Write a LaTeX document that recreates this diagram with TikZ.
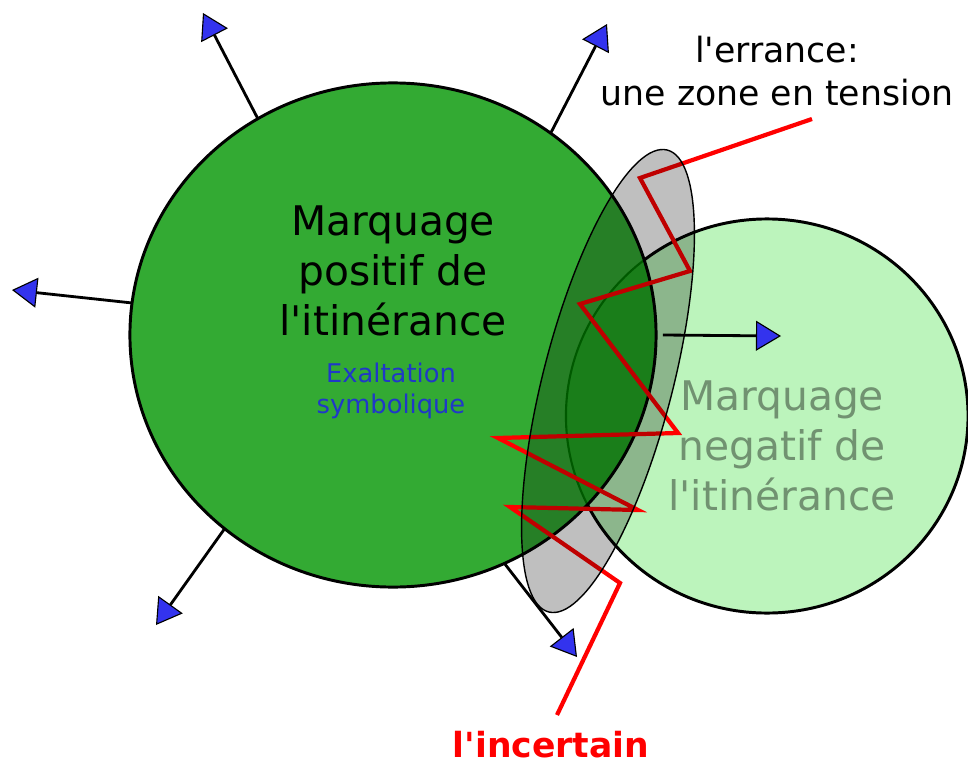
\documentclass[tikz,border=0pt]{standalone}
\usepackage{fontspec}
\setmainfont{DejaVu Sans}[Ligatures=TeXOff]
\usepackage{xcolor}
\usetikzlibrary{arrows.meta,shapes.geometric}
\definecolor{posgreen}{HTML}{33AA33}
\definecolor{neggreen}{HTML}{BCF4BC}
\definecolor{mixgreen}{HTML}{23A923}
\definecolor{arcgreen}{HTML}{007800}
\definecolor{tipblue}{HTML}{3333EE}
\definecolor{subblue}{HTML}{2038C8}
\definecolor{negtext}{HTML}{719271}
\definecolor{zigred}{HTML}{FF0000}
\tikzset{
  blob/.style={ellipse, draw=black, line width=2.1pt, inner sep=0pt, outer sep=0pt},
  zone/.style={ellipse, draw=black, line width=1pt, fill=black, fill opacity=0.25, inner sep=0pt, outer sep=0pt},
  spoke/.style={draw=black, line width=2pt, -{Triangle[length=17.8pt,width=21.3pt,fill=tipblue,line width=0.8pt]}},
  zigzag/.style={draw=zigred, line width=3pt, line join=miter},
  bigtext/.style={align=center, font=\fontsize{29}{35.6}\selectfont},
  subtext/.style={align=center, text=subblue, font=\fontsize{18.3}{22}\selectfont},
  errtext/.style={align=center, font=\fontsize{24.7}{30.6}\selectfont},
  uncert/.style={text=zigred, inner sep=1pt, font=\bfseries\fontsize{24.6}{29}\selectfont},
}

\begin{document}
\begin{tikzpicture}[x=0.025cm, y=-0.025cm]
\useasboundingbox (0,0) rectangle (968,769);

% the two circles
\node[blob, fill=neggreen, minimum width=10.05cm, minimum height=9.85cm] (neg) at (767,416) {};
\node[blob, draw=none, fill=posgreen, minimum width=13.15cm, minimum height=12.6cm] (pos) at (393,335) {};
\begin{scope}
\clip (pos.center) ellipse [x radius=6.575cm, y radius=6.3cm];
\fill[mixgreen] (neg.center) ellipse [x radius=5.025cm, y radius=4.925cm];
\draw[arcgreen, line width=1.5pt] (neg.center) ellipse [x radius=5.025cm, y radius=4.925cm];
\end{scope}
\draw[line width=2.1pt] (pos.center) ellipse [x radius=6.575cm, y radius=6.3cm];

% free ends
\coordinate (tipNW) at (203,13);
\coordinate (tipNE) at (607,24);
\coordinate (tipW) at (12,290);
\coordinate (tipSW) at (156,625);
\coordinate (tipSE) at (577,657);
\coordinate (tipE) at (781,336);
\coordinate (zigstart) at (812,119);
\coordinate (zigend) at (557,715);

% the red line of uncertainty
\draw[zigzag] (zigstart) -- (640,178) -- (690,271) -- (580,304) -- (678,433)
  -- (498,438) -- (638,510) -- (510,507) -- (620,583) -- (zigend);

\draw[spoke] (pos.122) -- (tipNW);
\draw[spoke] (pos.52) -- (tipNE);
\draw[spoke] (pos.173) -- (tipW);
\draw[spoke] (pos.229) -- (tipSW);
\draw[spoke] (pos.296) -- (tipSE);
\draw[spoke] ([xshift=0.17cm]pos.0) -- (tipE);

% zone of tension
\node[zone, rotate=-14.4, minimum width=3.245cm, minimum height=11.92cm] (tension) at (608,381) {};

\node[bigtext] (postext) at (393,271) {Marquage\\positif de\\l'itinérance};
\node[subtext] (exalt) at (391,391) {Exaltation\\symbolique};
\node[bigtext, text=negtext] (negtxt) at (782,446) {Marquage\\negatif de\\l'itinérance};
\node[errtext] (errance) at (777,71) {l'errance:\\une zone en tension};
\node[uncert] (incertain) at (551,745) {l'incertain};
\end{tikzpicture}
\end{document}
